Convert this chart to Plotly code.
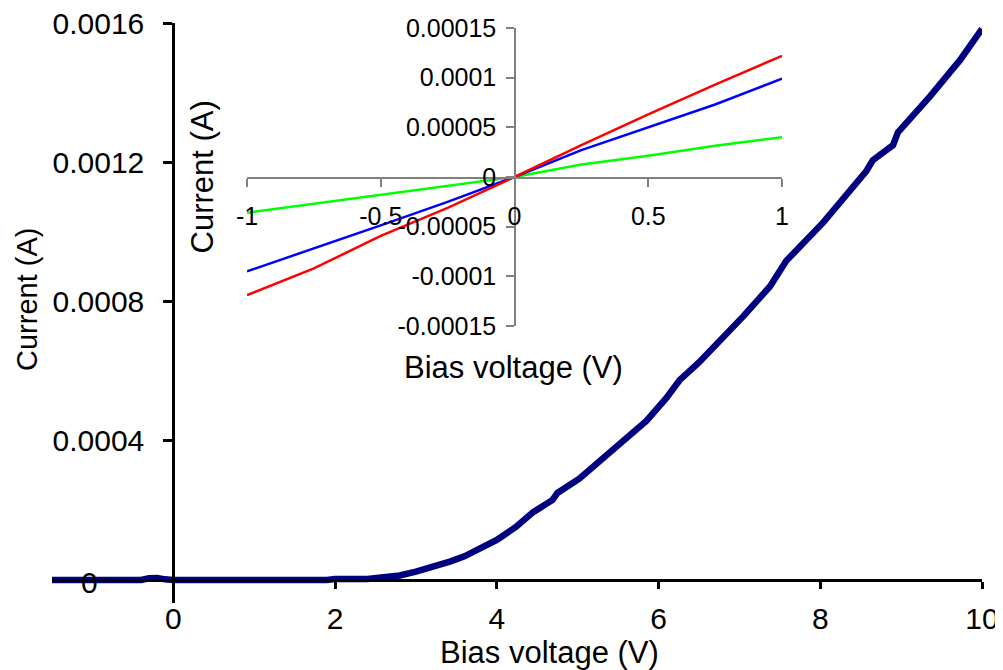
import plotly.graph_objects as go

# ---- main I-V curve ----
main_v = [-1.5, -0.4, -0.3, -0.2, -0.1, 0.0, 1.9, 2.0, 2.4, 2.6, 2.8, 3.0, 3.2, 3.42, 3.6,
          3.83, 4.0, 4.24, 4.38, 4.45, 4.69, 4.75, 5.02, 5.44, 5.85, 6.10, 6.26, 6.50,
          6.80, 7.05, 7.38, 7.58, 8.04, 8.30, 8.57, 8.65, 8.90, 8.96, 9.36, 9.73, 10.0]
main_i = [0.0, 0.0, 0.000005, 0.000006, 0.000002, 0.0, 0.0, 0.000003, 0.000003, 0.000008,
          0.000013, 0.000024, 0.000036, 0.000053, 0.000068, 0.000096, 0.000115, 0.000153,
          0.00018, 0.000195, 0.00023, 0.00025, 0.000291, 0.000377, 0.000457, 0.000524,
          0.000574, 0.000625, 0.000696, 0.000758, 0.000844, 0.000917, 0.001028, 0.0011,
          0.001175, 0.001206, 0.001249, 0.001286, 0.00139, 0.001494, 0.001583]

# ---- inset curves ----
inset_v = [-1.0, -0.75, -0.5, -0.25, 0.0, 0.25, 0.5, 0.75, 1.0]
inset_red = [-0.000119, -0.000092, -0.0000593, -0.000031, 0.0, 0.000032, 0.000063, 0.000093, 0.000122]
inset_blue = [-0.000095, -0.000072, -0.0000487, -0.000025, 0.0, 0.000027, 0.00005, 0.000073, 0.000099]
inset_green = [-0.000036, -0.000027, -0.000018, -0.000009, 0.0, 0.0000125, 0.0000215, 0.0000315, 0.00004]

# ---- ticks ----
main_xticks = [0, 2, 4, 6, 8, 10]
main_xticktext = ["0", "2", "4", "6", "8", "10"]
main_yticks = [0.0004, 0.0008, 0.0012, 0.0016]
main_yticktext = ["0.0004", "0.0008", "0.0012", "0.0016"]
inset_xticks = [-1, -0.5, 0, 0.5, 1]
inset_xticktext = ["-1", "-0.5", "0", "0.5", "1"]
inset_yticks = [-0.00015, -0.0001, -0.00005, 0, 0.00005, 0.0001, 0.00015]
inset_yticktext = ["-0.00015", "-0.0001", "-0.00005", "0", "0.00005", "0.0001", "0.00015"]

FONT = "Liberation Sans, Arial, sans-serif"
OFF = 8  # default page body margin
W, H = 1003 - OFF, 670 - OFF
L, R, T, B = 52 - OFF, 21, 23 - OFF, 67
pw, ph = W - L - R, H - T - B

xmin, xmax = -1.5, 10.0
ymin, ymax = -0.000066, 0.0016001

def px_x(px):
    return (px - OFF - L) / pw

def px_y(py):
    return (OFF + H - B - py) / ph

fig = go.Figure()
fig.add_trace(go.Scatter(x=main_v, y=main_i, mode="lines",
                         line=dict(color="#000080", width=6.5), showlegend=False,
                         xaxis="x", yaxis="y"))
fig.add_trace(go.Scatter(x=inset_v, y=inset_green, mode="lines",
                         line=dict(color="#00FF00", width=2.5), showlegend=False,
                         xaxis="x2", yaxis="y2"))
fig.add_trace(go.Scatter(x=inset_v, y=inset_blue, mode="lines",
                         line=dict(color="#0000FF", width=2.5), showlegend=False,
                         xaxis="x2", yaxis="y2"))
fig.add_trace(go.Scatter(x=inset_v, y=inset_red, mode="lines",
                         line=dict(color="#FF0000", width=2.5), showlegend=False,
                         xaxis="x2", yaxis="y2"))

x0_pos = (0 - xmin) / (xmax - xmin)
y0_pos = (0 - ymin) / (ymax - ymin)

fig.update_layout(
    width=W, height=H,
    margin=dict(l=L, r=R, t=T, b=B, pad=0, autoexpand=False),
    paper_bgcolor="white",
    plot_bgcolor="rgba(0,0,0,0)",
    font=dict(family=FONT, color="black"),
    xaxis=dict(domain=[0, 1], range=[xmin, xmax], anchor="free", position=y0_pos,
               automargin=False, ticklabeloverflow="allow",
               showgrid=False, zeroline=False, showline=True, linecolor="black", linewidth=3,
               ticks="outside", ticklen=7, tickwidth=3, tickcolor="black",
               tickvals=main_xticks, ticktext=main_xticktext,
               tickfont=dict(size=30, family=FONT), ticklabelstandoff=4),
    yaxis=dict(domain=[0, 1], range=[ymin, ymax], anchor="free", position=x0_pos,
               automargin=False, ticklabeloverflow="allow",
               showgrid=False, zeroline=False, showline=True, linecolor="black", linewidth=3,
               ticks="outside", ticklen=9, tickwidth=3, tickcolor="black",
               tickvals=main_yticks, ticktext=main_yticktext,
               tickfont=dict(size=30, family=FONT), ticklabelstandoff=13),
    xaxis2=dict(domain=[px_x(247), px_x(782)], range=[-1, 1], anchor="free",
                position=px_y(178), automargin=False, ticklabeloverflow="allow",
                showgrid=False, zeroline=False, showline=True, linecolor="#808080", linewidth=1.5,
                ticks="outside", ticklen=8, tickwidth=1.5, tickcolor="#808080",
                tickvals=inset_xticks, ticktext=inset_xticktext,
                tickfont=dict(size=25, family=FONT), ticklabelstandoff=8),
    yaxis2=dict(domain=[px_y(326), px_y(28)], range=[-0.00015, 0.00015], anchor="free",
                position=px_x(515), automargin=False, ticklabeloverflow="allow",
                showgrid=False, zeroline=False, showline=True, linecolor="#808080", linewidth=1.5,
                ticks="outside", ticklen=8, tickwidth=1.5, tickcolor="#808080",
                tickvals=inset_yticks, ticktext=inset_yticktext,
                tickfont=dict(size=25, family=FONT), ticklabelstandoff=5),
    annotations=[
        dict(text="0", xref="x", yref="y", x=-1.04, y=0, yshift=-2, showarrow=False,
             font=dict(size=30, family=FONT), xanchor="center", yanchor="middle"),
        dict(text="Bias voltage (V)", xref="paper", yref="paper", x=px_x(549), y=px_y(652),
             showarrow=False, font=dict(size=31, family=FONT), xanchor="center", yanchor="middle"),
        dict(text="Current (A)", xref="paper", yref="paper", x=px_x(27), y=px_y(300),
             showarrow=False, textangle=-90, font=dict(size=29, family=FONT),
             xanchor="center", yanchor="middle"),
        dict(text="Bias voltage (V)", xref="paper", yref="paper", x=px_x(513.5), y=px_y(367),
             showarrow=False, font=dict(size=31, family=FONT), xanchor="center", yanchor="middle"),
        dict(text="Current (A)", xref="paper", yref="paper", x=px_x(202), y=px_y(177.5),
             showarrow=False, textangle=-90, font=dict(size=31, family=FONT),
             xanchor="center", yanchor="middle"),
    ],
)

fig.write_html("out.html", config={"displayModeBar": False})
